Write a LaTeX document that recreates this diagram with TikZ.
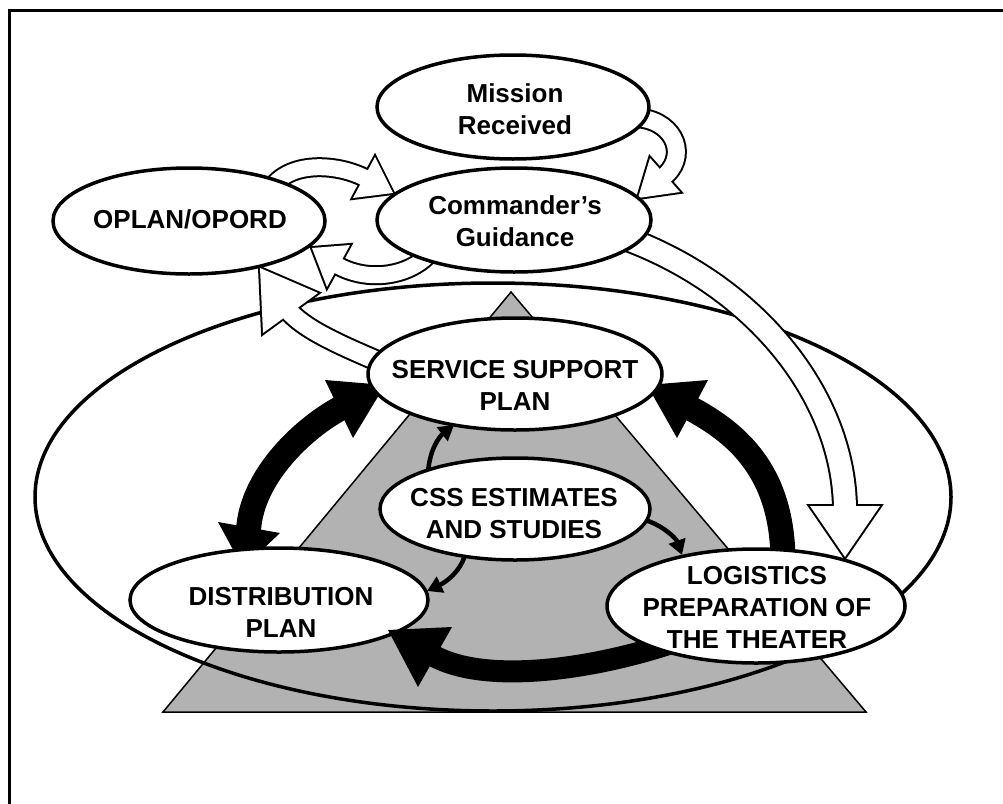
\documentclass[tikz,border=0pt]{standalone}
\usepackage{fontspec}
\setmainfont{Liberation Sans}
\usetikzlibrary{shapes.geometric,arrows.meta}
\definecolor{trigray}{gray}{0.70}
\newcommand\hollowarr[4]{%
  \draw[line width=#1,black] #3;
  \filldraw[black,line width=4pt,line join=miter] #4 -- cycle;
  \draw[line width=#2,white] #3;
  \fill[white] #4 -- cycle;}
\tikzset{
  ell/.style={draw,ellipse,fill=white,line width=3.5pt,inner sep=0pt},
  lbl/.style={font=\fontsize{26}{32}\selectfont\bfseries,align=center,inner sep=0pt},
  blackbody/.style={line width=25pt,black},
  smallarr/.style={line width=4.5pt,-{Triangle[width=17pt,length=15pt]}},
}
\begin{document}
\begin{tikzpicture}[x=1pt,y=-1pt]
\useasboundingbox (0,0) rectangle (1003,803);
\clip (0,0) rectangle (1003,803);
\fill[white] (0,0) rectangle (1003,803);
\draw[line width=3pt] (9.5,815) -- (9.5,10.5) -- (1015,10.5);
% gray triangle and outer ellipse
\draw[fill=trigray,line width=1.5pt] (511,292) -- (866,712) -- (163,712) -- cycle;
\node[draw,ellipse,line width=3.5pt,minimum width=916pt,minimum height=428pt] (outer) at (493,497) {};
% hollow arrows
\hollowarr{20pt}{16pt}{(272,187) .. controls (292,160) and (340,164) .. (367,179)}{(375,157) -- (393,193) -- (353,198)}
\hollowarr{20pt}{16pt}{(428,255) .. controls (410,275) and (368,284) .. (335,264)}{(350,245) -- (312,248) -- (327,287)}
\hollowarr{22pt}{18pt}{(380,362) .. controls (335,343) and (303,328) .. (288,310)}{(318,293) -- (260,268) -- (263,333)}
\hollowarr{21pt}{17pt}{(640,118) .. controls (676,122) and (689,158) .. (662,178)}{(650,158) -- (638,198) -- (680,192)}
\hollowarr{26pt}{22pt}{(630,240) .. controls (760,290) and (845,400) .. (845,511)}{(810,506) -- (845,557) -- (880,506)}
% black arrows
\draw[blackbody] (248.5,530) .. controls (252,475) and (305,427) .. (341.6,407.6);
\fill (325,380) -- (385,385) -- (353,438) -- cycle;
\fill (218,522) -- (243,568) -- (280,533) -- cycle;
\draw[blackbody] (783,562) .. controls (783,470) and (735,432) .. (689,407.5);
\fill (708,380) -- (647,385) -- (677,438) -- cycle;
\draw[line width=22pt] (680,640) .. controls (610,665) and (490,688) .. (432,655);
% small arrows
\draw[smallarr] (428,472) .. controls (430,448) and (440,436) .. (454,425);
\draw[smallarr] (645,520) .. controls (662,525) and (676,538) .. (682,555);
\draw[smallarr] (465,555) .. controls (460,572) and (446,582) .. (427,591);
% ellipses
\node[ell,minimum width=272pt,minimum height=104pt] (mr) at (513,107) {};
\node[ell,minimum width=274pt,minimum height=104pt] (cg) at (514,220) {};
\node[ell,minimum width=272pt,minimum height=106pt] (op) at (189,221) {};
\node[ell,minimum width=294pt,minimum height=112pt] (ssp) at (515,374) {};
\node[ell,minimum width=270pt,minimum height=102pt] (css) at (515,509) {};
\node[ell,minimum width=298pt,minimum height=104pt] (dp) at (279,600) {};
\node[ell,minimum width=298pt,minimum height=114pt] (lpt) at (756,606) {};
% bottom arrowhead over the distribution ellipse
\fill (452,627) -- (388,630) -- (418,687) -- cycle;
% labels
\node[lbl] (mrt) at (515,109) {Mission\\Received};
\node[lbl] (cgt) at (515,221) {Commander’s\\Guidance};
\node[lbl] (opt) at (190,219) {OPLAN/OPORD};
\node[lbl] (sspt) at (515,385) {SERVICE SUPPORT\\PLAN};
\node[lbl] (csst) at (514,514) {CSS ESTIMATES\\AND STUDIES};
\node[lbl] (dpt) at (281,612) {DISTRIBUTION\\PLAN};
\node[lbl] (lptt) at (757,607) {LOGISTICS\\PREPARATION OF\\THE THEATER};
\end{tikzpicture}
\end{document}
